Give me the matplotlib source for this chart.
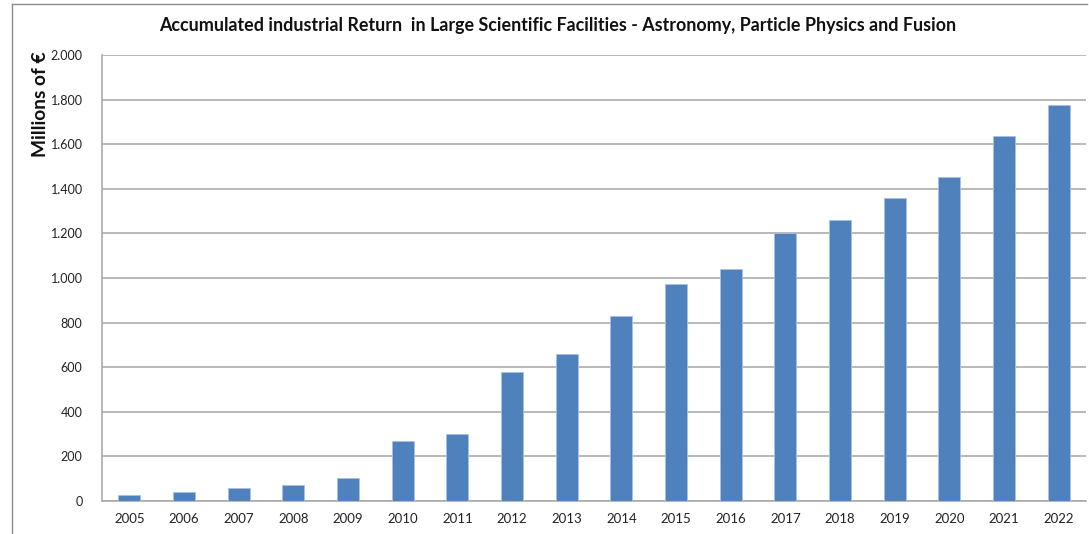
import matplotlib
matplotlib.use("Agg")
import matplotlib.pyplot as plt
from matplotlib.lines import Line2D
from matplotlib.ticker import FuncFormatter

years = ['2005', '2006', '2007', '2008', '2009', '2010', '2011', '2012', '2013',
         '2014', '2015', '2016', '2017', '2018', '2019', '2020', '2021', '2022']
returns = [25, 42, 57, 72, 103, 268, 299, 580, 661,
           830, 973, 1042, 1202, 1261, 1359, 1451, 1638, 1775]
yticks = [0, 200, 400, 600, 800, 1000, 1200, 1400, 1600, 1800, 2000]

plt.rcParams['font.family'] = ['Lato', 'DejaVu Sans']

fig = plt.figure(figsize=(10.89, 5.34), dpi=100)
ax = fig.add_axes([0.0937, 0.0618, 0.9035, 0.8352])

x = list(range(len(years)))
ax.bar(x, returns, width=0.4, color='#4F81BD', edgecolor='#A9C1E0', linewidth=0.6, zorder=3)

ax.set_xlim(-0.5, len(years) - 0.5)
ax.set_ylim(0, 2000)
ax.set_yticks(yticks)
ax.yaxis.set_major_formatter(FuncFormatter(lambda v, p: f'{int(v):,}'.replace(',', '.')))
ax.set_xticks(x)
ax.set_xticklabels(years)
ax.tick_params(axis='both', length=0, colors='#222222')
ax.tick_params(axis='y', pad=14, labelsize=9)
ax.tick_params(axis='x', pad=9, labelsize=9.5)

ax.grid(axis='y', color='#A6A6A6', linewidth=1.1, zorder=0)
for s in ['top', 'right']:
    ax.spines[s].set_visible(False)
for s in ['left', 'bottom']:
    ax.spines[s].set_color('#A6A6A6')
    ax.spines[s].set_linewidth(1.1)

# y label sits near the top of the axis, as in the original
fig.text(41 / 1089, 1 - 104 / 534, 'Millions of €', rotation=90, ha='center', va='center',
         fontsize=13.8, fontweight='bold', color='#111111')
fig.text(0.512, 0.952, 'Accumulated industrial Return  in Large Scientific Facilities - Astronomy, Particle Physics and Fusion',
         ha='center', va='center', fontsize=12.9, fontweight='bold', color='#111111')

# outer chart frame (partly cut off)
fig.add_artist(Line2D([12 / 1089, 12 / 1089], [0, 1 - 4 / 534], transform=fig.transFigure, color='#8C8C8C', linewidth=1))
fig.add_artist(Line2D([12 / 1089, 1087 / 1089], [1 - 4 / 534, 1 - 4 / 534], transform=fig.transFigure, color='#8C8C8C', linewidth=1))

fig.savefig('out.png', dpi=100)
